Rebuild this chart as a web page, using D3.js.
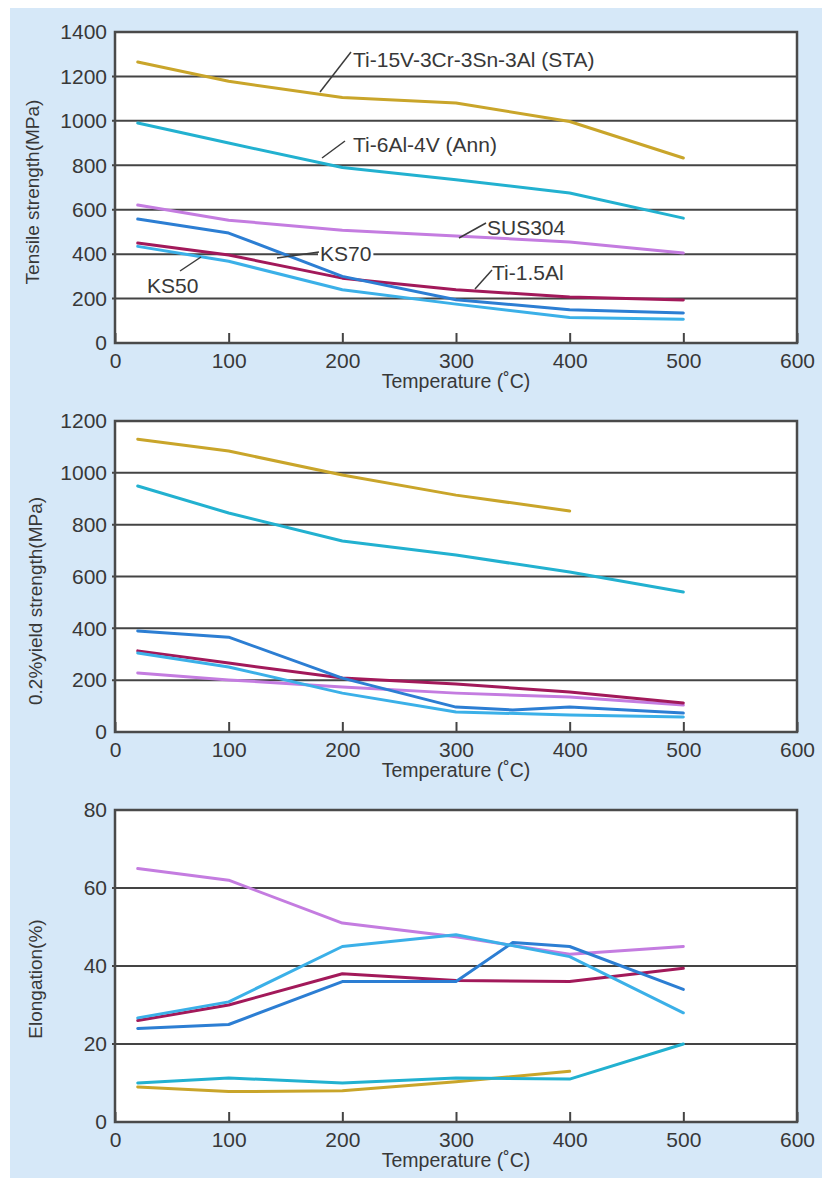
<!DOCTYPE html>
<html>
<head>
<meta charset="utf-8">
<script src="https://cdn.jsdelivr.net/npm/d3@7/dist/d3.min.js"></script>
<style>
  html, body { margin: 0; padding: 0; background: #ffffff; }
  svg { display: block; }
  text { font-family: "Liberation Sans", Arial, sans-serif; fill: #383838; }
</style>
</head>
<body>
<svg id="chart" width="822" height="1178"></svg>
<script>
// ---------- DATA ----------
const temps = [20, 100, 200, 300, 400, 500];
const temps400 = [20, 100, 200, 300, 400];
const tempsKS70 = [20, 100, 200, 300, 350, 400, 500];
const xTicks = [0, 100, 200, 300, 400, 500, 600];

// Tensile strength (MPa)
const tensileSTA    = [1265, 1178, 1105, 1080, 997, 833];
const tensileTi64   = [990, 900, 790, 735, 675, 562];
const tensileSUS304 = [621, 553, 508, 482, 455, 405];
const tensileKS70   = [558, 495, 300, 195, 150, 135];
const tensileKS50   = [435, 368, 240, 175, 115, 107];
const tensileTi15Al = [450, 396, 292, 240, 207, 194];
const tensileTicks  = [0, 200, 400, 600, 800, 1000, 1200, 1400];

// 0.2% yield strength (MPa)
const yieldSTA    = [1130, 1084, 992, 914, 853];
const yieldTi64   = [949, 845, 737, 683, 617, 540];
const yieldKS70   = [390, 366, 208, 96, 85, 96, 73];
const yieldTi15Al = [313, 266, 208, 185, 154, 112];
const yieldKS50   = [305, 251, 150, 77, 66, 58];
const yieldSUS304 = [228, 201, 174, 150, 135, 104];
const yieldTicks  = [0, 200, 400, 600, 800, 1000, 1200];

// Elongation (%)
const elongSUS304 = [65, 62, 51, 47.5, 43, 45];
const elongKS50   = [26.7, 30.8, 45, 48, 42.4, 28];
const elongKS70   = [24, 25, 36, 36, 46, 45, 34];
const elongTi15Al = [26, 30, 38, 36.3, 36, 39.4];
const elongTi64   = [10, 11.3, 10, 11.3, 11, 20];
const elongSTA    = [9, 7.8, 8, 10.3, 13];
const elongTicks  = [0, 20, 40, 60, 80];

const seriesNames = ["Ti-15V-3Cr-3Sn-3Al (STA)", "Ti-6Al-4V (Ann)", "SUS304", "KS70", "KS50", "Ti-1.5Al"];

// ---------- STYLE ----------
const colors = {
  STA: "#c9a52a", Ti64: "#22b1d0", SUS304: "#c47ce0",
  KS70: "#2c7ed3", KS50: "#3bb0e8", Ti15Al: "#a2195a"
};
const FONT = '"Liberation Sans", Arial, sans-serif';

const svg = d3.select("#chart");
svg.append("rect").attr("x", 10).attr("y", 8).attr("width", 812).attr("height", 1170).attr("fill", "#d6e8f8");

const plotLeft = 115, plotRight = 797;

function panel(cfg) {
  const x = d3.scaleLinear().domain([0, 600]).range([plotLeft, plotRight]);
  const y = d3.scaleLinear().domain([0, cfg.ymax]).range([cfg.bottom, cfg.top]);
  const g = svg.append("g");
  g.append("rect").attr("x", plotLeft).attr("y", cfg.top)
    .attr("width", plotRight - plotLeft).attr("height", cfg.bottom - cfg.top)
    .attr("fill", "#ffffff");
  // gridlines
  g.append("g").selectAll("line")
    .data(cfg.yTicks.filter(v => v > 0 && v < cfg.ymax))
    .join("line")
    .attr("x1", plotLeft - 3).attr("x2", plotRight)
    .attr("y1", d => y(d)).attr("y2", d => y(d))
    .attr("stroke", "#444").attr("stroke-width", 2);
  // x axis
  const xa = g.append("g").attr("transform", `translate(0,${cfg.bottom})`)
    .call(d3.axisBottom(x).tickValues(xTicks).tickFormat(d3.format("d")).tickSize(-10).tickPadding(10));
  xa.select(".domain").remove();
  xa.selectAll("line").attr("stroke", "#444").attr("stroke-width", 2);
  xa.selectAll("text").attr("font-size", 21).style("font-family", FONT).attr("fill", "#383838");
  // y axis
  const ya = g.append("g").attr("transform", `translate(${plotLeft},0)`)
    .call(d3.axisLeft(y).tickValues(cfg.yTicks).tickFormat(d3.format("d")).tickSize(0).tickPadding(8));
  ya.select(".domain").remove();
  ya.selectAll("text").attr("font-size", 21).style("font-family", FONT).attr("fill", "#383838");
  // series
  const line = d3.line().x(d => x(d[0])).y(d => y(d[1]));
  cfg.series.forEach(s => {
    g.append("path").datum(s.xs.map((t, i) => [t, s.ys[i]]))
      .attr("d", line).attr("fill", "none")
      .attr("stroke", s.color).attr("stroke-width", 3)
      .attr("stroke-linejoin", "round").attr("stroke-linecap", "round");
  });
  // frame
  g.append("rect").attr("x", plotLeft).attr("y", cfg.top)
    .attr("width", plotRight - plotLeft).attr("height", cfg.bottom - cfg.top)
    .attr("fill", "none").attr("stroke", "#4a4a4a").attr("stroke-width", 2.5);
  // titles
  g.append("text").attr("x", (plotLeft + plotRight) / 2).attr("y", cfg.bottom + 45)
    .attr("text-anchor", "middle").attr("font-size", 19.5).text("Temperature (˚C)");
  g.append("text").attr("transform", `translate(${cfg.titleX},${cfg.titleY}) rotate(-90)`)
    .attr("text-anchor", "middle").attr("dominant-baseline", "central")
    .attr("font-size", 19).text(cfg.title);
  return { g, x, y };
}

const p1 = panel({
  top: 32, bottom: 343, ymax: 1400, yTicks: tensileTicks,
  title: "Tensile strength(MPa)", titleX: 32, titleY: 192,
  series: [
    { xs: temps, ys: tensileSTA, color: colors.STA },
    { xs: temps, ys: tensileTi64, color: colors.Ti64 },
    { xs: temps, ys: tensileSUS304, color: colors.SUS304 },
    { xs: temps, ys: tensileTi15Al, color: colors.Ti15Al },
    { xs: temps, ys: tensileKS70, color: colors.KS70 },
    { xs: temps, ys: tensileKS50, color: colors.KS50 }
  ]
});

panel({
  top: 421, bottom: 732, ymax: 1200, yTicks: yieldTicks,
  title: "0.2%yield strength(MPa)", titleX: 35, titleY: 601,
  series: [
    { xs: temps400, ys: yieldSTA, color: colors.STA },
    { xs: temps, ys: yieldTi64, color: colors.Ti64 },
    { xs: temps, ys: yieldSUS304, color: colors.SUS304 },
    { xs: temps, ys: yieldTi15Al, color: colors.Ti15Al },
    { xs: tempsKS70, ys: yieldKS70, color: colors.KS70 },
    { xs: temps, ys: yieldKS50, color: colors.KS50 }
  ]
});

panel({
  top: 810, bottom: 1122, ymax: 80, yTicks: elongTicks,
  title: "Elongation(%)", titleX: 35, titleY: 979,
  series: [
    { xs: temps400, ys: elongSTA, color: colors.STA },
    { xs: temps, ys: elongTi64, color: colors.Ti64 },
    { xs: temps, ys: elongSUS304, color: colors.SUS304 },
    { xs: temps, ys: elongTi15Al, color: colors.Ti15Al },
    { xs: tempsKS70, ys: elongKS70, color: colors.KS70 },
    { xs: temps, ys: elongKS50, color: colors.KS50 }
  ]
});

// ---------- ANNOTATIONS (top panel) ----------
const ann = p1.g.append("g");
function leader(x1, y1, x2, y2) {
  ann.append("line").attr("x1", x1).attr("y1", y1).attr("x2", x2).attr("y2", y2)
    .attr("stroke", "#3b3b3b").attr("stroke-width", 1.5);
}
function label(txt, x, y, bg) {
  const t = ann.append("text").attr("x", x).attr("y", y).attr("font-size", 21).text(txt);
  if (bg) {
    const b = t.node().getBBox();
    ann.insert("rect", "text").attr("x", b.x - 2).attr("y", b.y + 3).attr("width", b.width + 4).attr("height", b.height - 6).attr("fill", "#fff");
    t.raise();
  }
}
leader(320, 92, 351, 52);
label(seriesNames[0], 353, 67);
leader(322, 158, 345, 141);
label(seriesNames[1], 353, 152);
leader(459, 238, 486, 223);
label(seriesNames[2], 487, 235);
leader(277, 258, 319, 252);
label(seriesNames[3], 320, 261, true);
leader(180, 271, 201, 257);
label(seriesNames[4], 147, 293);
leader(475, 289, 492, 270);
label(seriesNames[5], 492, 280);
</script>
</body>
</html>
